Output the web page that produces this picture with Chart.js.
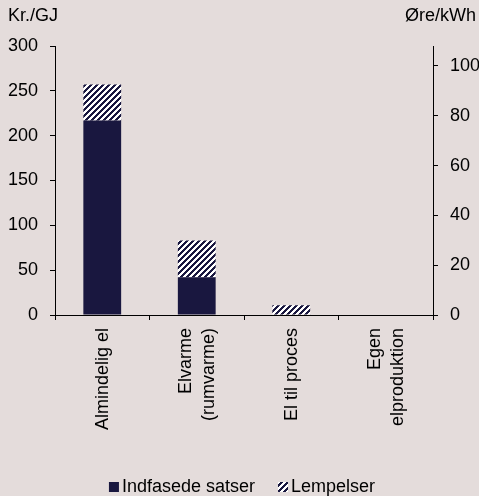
<!DOCTYPE html>
<html>
<head>
<meta charset="utf-8">
<script src="https://cdn.jsdelivr.net/npm/chart.js@4/dist/chart.umd.min.js"></script>
<style>
  html, body { margin: 0; padding: 0; background: #e4dcdb; }
  #wrap { width: 479px; height: 496px; }
</style>
</head>
<body>
<div id="wrap"><canvas id="afgiftChart" width="479" height="496"></canvas></div>
<script>
const categories = ["Almindelig el", ["Elvarme", "(rumvarme)"], "El til proces", ["Egen", "elproduktion"]];
const indfasede = [217, 42, 0, 0];
const lempelser = [40, 41, 11, 0];
const leftTicksMax = 300;   // Kr./GJ
const rightTicksMax = 108;  // same height in øre/kWh (300 kr/GJ = 108 øre/kWh)

const FONT = "'Liberation Sans', Arial, sans-serif";
const NAVY = "#19173f";
const BG = "#e4dcdb";

// crisp diagonal "/" hatch used for Lempelser, half navy half white
function makeHatch() {
  const s = 6;
  const c = document.createElement("canvas");
  c.width = s;
  c.height = s;
  const g = c.getContext("2d");
  g.fillStyle = "#ffffff";
  g.fillRect(0, 0, s, s);
  g.fillStyle = NAVY;
  for (let y = 0; y < s; y++) {
    for (let x = 0; x < s; x++) {
      if ((x + y) % s < 3) g.fillRect(x, y, 1, 1);
    }
  }
  return document.getElementById("afgiftChart").getContext("2d").createPattern(c, "repeat");
}
const hatch = makeHatch();

const background = {
  id: "background",
  beforeDraw(chart) {
    const { ctx, width, height } = chart;
    ctx.save();
    ctx.fillStyle = BG;
    ctx.fillRect(0, 0, width, height);
    ctx.restore();
  },
};

// unit captions, rotated category names and the legend
const extras = {
  id: "extras",
  afterDraw(chart) {
    const ctx = chart.ctx;
    ctx.save();
    ctx.fillStyle = "#000";
    ctx.font = "18px " + FONT;
    ctx.textBaseline = "alphabetic";
    ctx.textAlign = "left";
    ctx.fillText("Kr./GJ", 8, 21);
    ctx.textAlign = "right";
    ctx.fillText("Øre/kWh", 476, 21);

    const x = chart.scales.x;
    ctx.textAlign = "right";
    ctx.textBaseline = "middle";
    chart.data.labels.forEach((lab, i) => {
      const px = x.getPixelForTick(i);
      const lines = [].concat(lab);
      lines.forEach((ln, j) => {
        const cx = px + (j - (lines.length - 1) / 2) * 23;
        ctx.save();
        ctx.translate(cx + 1, x.top + 13);
        ctx.rotate(-Math.PI / 2);
        ctx.fillText(ln, 0, 0);
        ctx.restore();
      });
    });

    const items = chart.data.datasets.map((d) => ({ text: d.label, fill: d.backgroundColor }));
    const box = 10, gap = 3, spacing = 23;
    ctx.textAlign = "left";
    ctx.textBaseline = "alphabetic";
    const total = items.reduce((s, it) => s + box + gap + ctx.measureText(it.text).width, 0) + spacing * (items.length - 1);
    let lx = 242 - total / 2;
    items.forEach((it) => {
      ctx.fillStyle = it.fill;
      ctx.fillRect(lx, 482, box, box);
      lx += box + gap;
      ctx.fillStyle = "#000";
      ctx.fillText(it.text, lx, 492);
      lx += ctx.measureText(it.text).width + spacing;
    });
    ctx.restore();
  },
};

const axisGrid = {
  display: true,
  drawOnChartArea: false,
  drawTicks: true,
  tickLength: 5,
  color: "#000",
  lineWidth: 1,
};

new Chart(document.getElementById("afgiftChart"), {
  type: "bar",
  data: {
    labels: categories,
    datasets: [
      {
        label: "Indfasede satser",
        data: indfasede,
        backgroundColor: NAVY,
        yAxisID: "y",
      },
      {
        label: "Lempelser",
        data: lempelser,
        backgroundColor: hatch,
        yAxisID: "y",
      },
    ],
  },
  options: {
    responsive: false,
    animation: false,
    layout: { padding: { top: 46, left: 0, right: 0, bottom: 61 } },
    datasets: { bar: { categoryPercentage: 1, barPercentage: 0.4, borderWidth: 0 } },
    plugins: {
      legend: { display: false },
      tooltip: { enabled: false },
    },
    scales: {
      x: {
        stacked: true,
        grid: { ...axisGrid, offset: true },
        border: { display: true, color: "#000", width: 1 },
        ticks: { display: false },
        afterFit(scale) { scale.height = 120; },
      },
      y: {
        stacked: true,
        position: "left",
        min: 0,
        max: leftTicksMax,
        grid: axisGrid,
        border: { display: true, color: "#000", width: 1 },
        ticks: { stepSize: 50, padding: 12, color: "#000", font: { family: FONT, size: 18 } },
        afterFit(scale) { scale.width = 55; },
      },
      y1: {
        position: "right",
        min: 0,
        max: rightTicksMax,
        grid: axisGrid,
        border: { display: true, color: "#000", width: 1 },
        ticks: { stepSize: 20, includeBounds: false, padding: 12, color: "#000", font: { family: FONT, size: 18 } },
        afterFit(scale) { scale.width = 46; },
      },
    },
  },
  plugins: [background, extras],
});
</script>
</body>
</html>
